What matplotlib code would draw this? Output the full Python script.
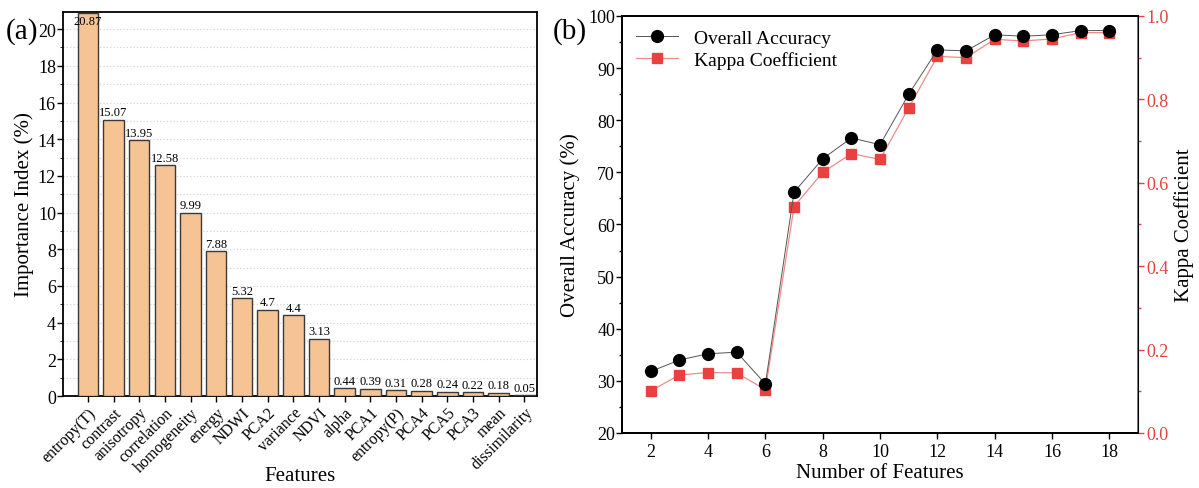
import matplotlib
matplotlib.use("Agg")
import matplotlib.pyplot as plt
from matplotlib.ticker import MultipleLocator

plt.rcParams["font.family"] = ["Liberation Serif", "DejaVu Serif"]

# panel (a): feature importance
features = ["entropy(T)", "contrast", "anisotropy", "correlation", "homogeneity",
            "energy", "NDWI", "PCA2", "variance", "NDVI", "alpha", "PCA1",
            "entropy(P)", "PCA4", "PCA5", "PCA3", "mean", "dissimilarity"]
importance = [20.87, 15.07, 13.95, 12.58, 9.99, 7.88, 5.32, 4.7, 4.4, 3.13,
              0.44, 0.39, 0.31, 0.28, 0.24, 0.22, 0.18, 0.05]
importance_text = ["20.87", "15.07", "13.95", "12.58", "9.99", "7.88", "5.32", "4.7",
                   "4.4", "3.13", "0.44", "0.39", "0.31", "0.28", "0.24", "0.22",
                   "0.18", "0.05"]

# panel (b): accuracy vs number of features
n_features = [2, 3, 4, 5, 6, 7, 8, 9, 10, 11, 12, 13, 14, 15, 16, 17, 18]
overall_acc = [31.8, 34.0, 35.2, 35.5, 29.4, 66.2, 72.6, 76.6, 75.3, 85.0,
               93.5, 93.3, 96.4, 96.1, 96.4, 97.2, 97.2]
kappa = [0.101, 0.139, 0.145, 0.144, 0.104, 0.543, 0.625, 0.670, 0.656, 0.780,
         0.903, 0.900, 0.944, 0.940, 0.945, 0.960, 0.960]

BAR_COLOR = "#F6C394"
RED = "#E8413F"

fig = plt.figure(figsize=(11.99, 4.89), dpi=100)

# ---- (a) ----
ax1 = fig.add_axes([0.0525, 0.188, 0.3953, 0.7853])
x = list(range(len(features)))
ax1.bar(x, importance, width=0.8, color=BAR_COLOR, edgecolor="#3a3a3a",
        linewidth=1.0, zorder=3)
ymax = 20.93
ax1.set_ylim(0, ymax)
ax1.set_xlim(-0.97, len(features) - 0.51)
for xi, v, t in zip(x, importance, importance_text):
    yy = v + 0.08 if v + 0.8 < ymax else ymax - 0.8
    ax1.text(xi, yy, t, ha="center", va="bottom", fontsize=9, zorder=4)
ax1.yaxis.set_major_locator(MultipleLocator(2))
ax1.yaxis.set_minor_locator(MultipleLocator(1))
ax1.grid(axis="y", which="both", linestyle=(0, (1, 2)), color="#cfcfcf",
         linewidth=0.8, zorder=0)
ax1.set_axisbelow(True)
ax1.set_xticks(x)
ax1.set_xticklabels(features, rotation=45, ha="right", rotation_mode="anchor",
                    fontsize=11.5)
ax1.tick_params(axis="y", labelsize=13, direction="out", length=4, width=1, pad=1)
ax1.tick_params(axis="y", which="minor", direction="out", length=2)
ax1.tick_params(axis="x", direction="out", length=4, width=1, pad=2)
ax1.set_ylabel("Importance Index (%)", fontsize=15, labelpad=3)
ax1.set_xlabel("Features", fontsize=15, labelpad=-6)
for sp in ax1.spines.values():
    sp.set_linewidth(1.3)
fig.text(0.005, 0.92, "(a)", fontsize=21)

# ---- (b) ----
ax2 = fig.add_axes([0.5188, 0.1125, 0.4304, 0.8528])
ax3 = ax2.twinx()
l1, = ax2.plot(n_features, overall_acc, color="#555555", linewidth=0.7,
               marker="o", markersize=8.5, markerfacecolor="black",
               markeredgecolor="black", label="Overall Accuracy", zorder=3)
l2, = ax3.plot(n_features, kappa, color="#F08A88", linewidth=0.9,
               marker="s", markersize=7, markerfacecolor=RED,
               markeredgecolor=RED, label="Kappa Coefficient", zorder=3)
ax2.set_xlim(1, 19)
ax2.set_ylim(20, 100)
ax3.set_ylim(0, 1.0)
ax2.xaxis.set_major_locator(MultipleLocator(2))
ax2.yaxis.set_major_locator(MultipleLocator(10))
ax2.yaxis.set_minor_locator(MultipleLocator(5))
ax3.yaxis.set_major_locator(MultipleLocator(0.2))
ax3.yaxis.set_minor_locator(MultipleLocator(0.1))
ax3.set_yticks(ax3.get_yticks())
ax3.set_yticklabels([f"{v:.1f}" for v in ax3.get_yticks()])
ax3.set_ylim(0, 1.0)
ax2.tick_params(axis="both", labelsize=13, direction="out", length=4, width=1)
ax2.tick_params(axis="y", pad=1)
ax2.tick_params(axis="y", which="minor", direction="out", length=2.5, width=1)
ax3.tick_params(axis="y", labelsize=13, direction="out", length=4, width=1,
                colors=RED, pad=2)
ax3.tick_params(axis="y", which="minor", direction="out", length=2.5, width=1,
                colors=RED)
ax3.spines["right"].set_color(RED)
for sp in ["left", "bottom", "top"]:
    ax2.spines[sp].set_linewidth(1.3)
    ax3.spines[sp].set_linewidth(1.3)
ax3.spines["right"].set_linewidth(1.3)
ax2.set_xlabel("Number of Features", fontsize=15, labelpad=2)
ax2.set_ylabel("Overall Accuracy (%)", fontsize=15, labelpad=6)
ax3.set_ylabel("Kappa Coefficient", fontsize=15, labelpad=4)
ax2.set_zorder(ax3.get_zorder() + 1)
ax2.patch.set_visible(False)
ax2.legend(handles=[l1, l2], loc="upper left", frameon=False, fontsize=14,
           handlelength=2.2, borderaxespad=0.3, labelspacing=0.2)
fig.text(0.461, 0.92, "(b)", fontsize=21)

fig.savefig("out.png", dpi=100)
